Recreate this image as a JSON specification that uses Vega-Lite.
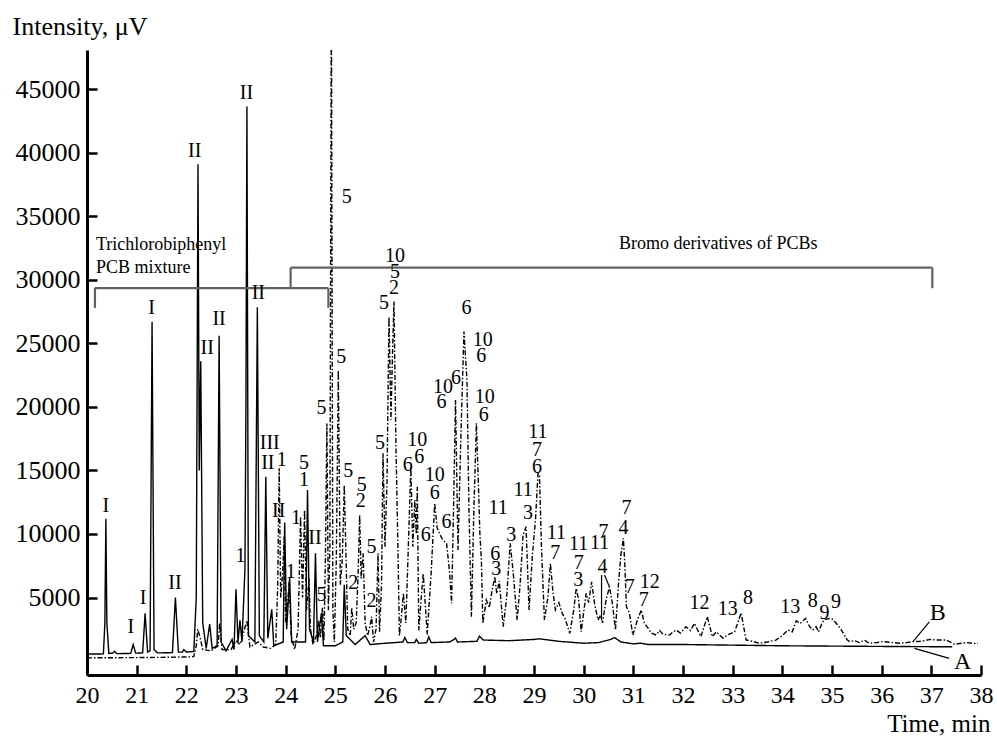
{
"$schema": "https://vega.github.io/schema/vega-lite/v6.json",
"width": 894, "height": 625,
"autosize": {"type": "none"},
"padding": {"left": 87, "top": 50, "right": 16, "bottom": 62},
"background": "white",
"config": {"view": {"stroke": null}, "font": "Liberation Serif, DejaVu Serif, serif"},
"datasets": {
"trace": [
{"s":"B","t":20.0,"v":250},{"s":"B","t":20.5,"v":260},{"s":"B","t":21.0,"v":270},{"s":"B","t":21.5,"v":290},{"s":"B","t":22.0,"v":320},{"s":"B","t":22.15,"v":350},{"s":"B","t":22.2,"v":1200},{"s":"B","t":22.23,"v":2500},{"s":"B","t":22.28,"v":1800},{"s":"B","t":22.33,"v":900},{"s":"B","t":22.5,"v":800},{"s":"B","t":22.64,"v":1200},{"s":"B","t":22.67,"v":3000},{"s":"B","t":22.72,"v":900},{"s":"B","t":22.9,"v":900},{"s":"B","t":23.0,"v":1600},{"s":"B","t":23.08,"v":1300},{"s":"B","t":23.15,"v":2200},{"s":"B","t":23.22,"v":3200},{"s":"B","t":23.28,"v":1100},{"s":"B","t":23.45,"v":1500},{"s":"B","t":23.55,"v":1100},{"s":"B","t":23.7,"v":1000},{"s":"B","t":23.8,"v":1300},{"s":"B","t":23.84,"v":6000},{"s":"B","t":23.87,"v":15170},{"s":"B","t":23.9,"v":5000},{"s":"B","t":23.94,"v":7000},{"s":"B","t":23.97,"v":9800},{"s":"B","t":24.0,"v":3000},{"s":"B","t":24.04,"v":4500},{"s":"B","t":24.07,"v":6200},{"s":"B","t":24.11,"v":2000},{"s":"B","t":24.18,"v":900},{"s":"B","t":24.25,"v":2500},{"s":"B","t":24.3,"v":11360},{"s":"B","t":24.34,"v":5000},{"s":"B","t":24.38,"v":11890},{"s":"B","t":24.42,"v":4000},{"s":"B","t":24.47,"v":6500},{"s":"B","t":24.5,"v":2500},{"s":"B","t":24.55,"v":1300},{"s":"B","t":24.62,"v":2000},{"s":"B","t":24.66,"v":3200},{"s":"B","t":24.7,"v":1800},{"s":"B","t":24.74,"v":4200},{"s":"B","t":24.77,"v":1600},{"s":"B","t":24.8,"v":8000},{"s":"B","t":24.83,"v":18700},{"s":"B","t":24.86,"v":4000},{"s":"B","t":24.89,"v":9000},{"s":"B","t":24.92,"v":53000},{"s":"B","t":24.95,"v":4000},{"s":"B","t":24.98,"v":1500},{"s":"B","t":25.02,"v":8000},{"s":"B","t":25.06,"v":22900},{"s":"B","t":25.1,"v":6000},{"s":"B","t":25.14,"v":8000},{"s":"B","t":25.18,"v":13860},{"s":"B","t":25.21,"v":9000},{"s":"B","t":25.25,"v":2500},{"s":"B","t":25.3,"v":2000},{"s":"B","t":25.33,"v":4200},{"s":"B","t":25.37,"v":2500},{"s":"B","t":25.42,"v":3000},{"s":"B","t":25.46,"v":7000},{"s":"B","t":25.49,"v":11500},{"s":"B","t":25.52,"v":6500},{"s":"B","t":25.56,"v":8480},{"s":"B","t":25.6,"v":3000},{"s":"B","t":25.65,"v":2000},{"s":"B","t":25.7,"v":2800},{"s":"B","t":25.73,"v":3490},{"s":"B","t":25.77,"v":1500},{"s":"B","t":25.82,"v":2500},{"s":"B","t":25.86,"v":8480},{"s":"B","t":25.89,"v":2300},{"s":"B","t":25.93,"v":6000},{"s":"B","t":25.96,"v":16350},{"s":"B","t":26.0,"v":9000},{"s":"B","t":26.04,"v":14000},{"s":"B","t":26.08,"v":27100},{"s":"B","t":26.12,"v":19000},{"s":"B","t":26.15,"v":24000},{"s":"B","t":26.18,"v":28300},{"s":"B","t":26.22,"v":17000},{"s":"B","t":26.26,"v":9000},{"s":"B","t":26.29,"v":2000},{"s":"B","t":26.33,"v":3500},{"s":"B","t":26.37,"v":5330},{"s":"B","t":26.42,"v":3000},{"s":"B","t":26.47,"v":9000},{"s":"B","t":26.52,"v":15300},{"s":"B","t":26.56,"v":9000},{"s":"B","t":26.6,"v":12680},{"s":"B","t":26.63,"v":10000},{"s":"B","t":26.65,"v":13720},{"s":"B","t":26.68,"v":2400},{"s":"B","t":26.73,"v":5000},{"s":"B","t":26.77,"v":6900},{"s":"B","t":26.81,"v":4500},{"s":"B","t":26.85,"v":2100},{"s":"B","t":26.93,"v":7000},{"s":"B","t":27.0,"v":12420},{"s":"B","t":27.05,"v":10500},{"s":"B","t":27.1,"v":10000},{"s":"B","t":27.17,"v":9500},{"s":"B","t":27.24,"v":9270},{"s":"B","t":27.3,"v":7000},{"s":"B","t":27.34,"v":4540},{"s":"B","t":27.38,"v":12000},{"s":"B","t":27.42,"v":20550},{"s":"B","t":27.47,"v":8740},{"s":"B","t":27.53,"v":18000},{"s":"B","t":27.59,"v":25930},{"s":"B","t":27.65,"v":22130},{"s":"B","t":27.69,"v":12000},{"s":"B","t":27.74,"v":3490},{"s":"B","t":27.79,"v":12000},{"s":"B","t":27.84,"v":18720},{"s":"B","t":27.88,"v":14000},{"s":"B","t":27.91,"v":10060},{"s":"B","t":27.94,"v":8000},{"s":"B","t":27.97,"v":2970},{"s":"B","t":28.04,"v":4800},{"s":"B","t":28.1,"v":4200},{"s":"B","t":28.14,"v":5200},{"s":"B","t":28.21,"v":6640},{"s":"B","t":28.25,"v":5300},{"s":"B","t":28.3,"v":6300},{"s":"B","t":28.38,"v":2700},{"s":"B","t":28.45,"v":5000},{"s":"B","t":28.52,"v":9270},{"s":"B","t":28.58,"v":7000},{"s":"B","t":28.66,"v":3230},{"s":"B","t":28.72,"v":6000},{"s":"B","t":28.78,"v":9920},{"s":"B","t":28.84,"v":10580},{"s":"B","t":28.9,"v":4020},{"s":"B","t":28.97,"v":8480},{"s":"B","t":29.03,"v":11100},{"s":"B","t":29.08,"v":14780},{"s":"B","t":29.11,"v":14650},{"s":"B","t":29.15,"v":9000},{"s":"B","t":29.21,"v":3230},{"s":"B","t":29.28,"v":5000},{"s":"B","t":29.33,"v":7690},{"s":"B","t":29.38,"v":5500},{"s":"B","t":29.43,"v":4020},{"s":"B","t":29.5,"v":4600},{"s":"B","t":29.57,"v":3750},{"s":"B","t":29.63,"v":3300},{"s":"B","t":29.72,"v":2180},{"s":"B","t":29.8,"v":4000},{"s":"B","t":29.85,"v":5720},{"s":"B","t":29.9,"v":4800},{"s":"B","t":29.95,"v":2310},{"s":"B","t":30.05,"v":5330},{"s":"B","t":30.1,"v":4600},{"s":"B","t":30.16,"v":6240},{"s":"B","t":30.22,"v":4500},{"s":"B","t":30.29,"v":3230},{"s":"B","t":30.34,"v":3600},{"s":"B","t":30.38,"v":3000},{"s":"B","t":30.45,"v":4800},{"s":"B","t":30.52,"v":5850},{"s":"B","t":30.58,"v":4500},{"s":"B","t":30.64,"v":2440},{"s":"B","t":30.7,"v":6000},{"s":"B","t":30.75,"v":8400},{"s":"B","t":30.8,"v":9660},{"s":"B","t":30.83,"v":7500},{"s":"B","t":30.86,"v":4280},{"s":"B","t":30.92,"v":3800},{"s":"B","t":30.99,"v":2050},{"s":"B","t":31.08,"v":3200},{"s":"B","t":31.16,"v":4020},{"s":"B","t":31.22,"v":3000},{"s":"B","t":31.3,"v":2570},{"s":"B","t":31.36,"v":2200},{"s":"B","t":31.46,"v":2050},{"s":"B","t":31.53,"v":2400},{"s":"B","t":31.6,"v":2100},{"s":"B","t":31.73,"v":2050},{"s":"B","t":31.8,"v":2300},{"s":"B","t":31.86,"v":2440},{"s":"B","t":31.95,"v":2200},{"s":"B","t":32.06,"v":2700},{"s":"B","t":32.15,"v":2400},{"s":"B","t":32.23,"v":2970},{"s":"B","t":32.36,"v":1920},{"s":"B","t":32.49,"v":3490},{"s":"B","t":32.59,"v":1920},{"s":"B","t":32.67,"v":2300},{"s":"B","t":32.8,"v":1800},{"s":"B","t":32.92,"v":2100},{"s":"B","t":33.04,"v":2300},{"s":"B","t":33.1,"v":2970},{"s":"B","t":33.17,"v":3800},{"s":"B","t":33.27,"v":1660},{"s":"B","t":33.4,"v":1550},{"s":"B","t":33.54,"v":1390},{"s":"B","t":33.7,"v":1500},{"s":"B","t":33.87,"v":1650},{"s":"B","t":34.0,"v":2000},{"s":"B","t":34.11,"v":2440},{"s":"B","t":34.2,"v":2300},{"s":"B","t":34.28,"v":3170},{"s":"B","t":34.36,"v":2970},{"s":"B","t":34.47,"v":3360},{"s":"B","t":34.55,"v":2700},{"s":"B","t":34.61,"v":2440},{"s":"B","t":34.68,"v":2700},{"s":"B","t":34.73,"v":2300},{"s":"B","t":34.8,"v":3000},{"s":"B","t":34.85,"v":3280},{"s":"B","t":34.95,"v":3350},{"s":"B","t":35.02,"v":3280},{"s":"B","t":35.1,"v":2900},{"s":"B","t":35.19,"v":2440},{"s":"B","t":35.3,"v":1700},{"s":"B","t":35.35,"v":1530},{"s":"B","t":35.45,"v":1600},{"s":"B","t":35.55,"v":1450},{"s":"B","t":35.65,"v":1650},{"s":"B","t":35.75,"v":1400},{"s":"B","t":35.9,"v":1450},{"s":"B","t":36.02,"v":1530},{"s":"B","t":36.15,"v":1480},{"s":"B","t":36.36,"v":1400},{"s":"B","t":36.5,"v":1450},{"s":"B","t":36.63,"v":1530},{"s":"B","t":36.8,"v":1550},{"s":"B","t":36.97,"v":1700},{"s":"B","t":37.1,"v":1650},{"s":"B","t":37.3,"v":1650},{"s":"B","t":37.47,"v":1320},{"s":"B","t":37.6,"v":1400},{"s":"B","t":37.71,"v":1450},{"s":"B","t":37.85,"v":1380},{"s":"B","t":37.94,"v":1400},
{"s":"A","t":20.0,"v":550},{"s":"A","t":20.33,"v":560},{"s":"A","t":20.36,"v":3000},{"s":"A","t":20.38,"v":11200},{"s":"A","t":20.4,"v":3000},{"s":"A","t":20.44,"v":600},{"s":"A","t":20.52,"v":620},{"s":"A","t":20.55,"v":760},{"s":"A","t":20.6,"v":580},{"s":"A","t":20.88,"v":600},{"s":"A","t":20.93,"v":1300},{"s":"A","t":20.98,"v":620},{"s":"A","t":21.12,"v":640},{"s":"A","t":21.17,"v":3750},{"s":"A","t":21.22,"v":700},{"s":"A","t":21.27,"v":800},{"s":"A","t":21.31,"v":26700},{"s":"A","t":21.35,"v":900},{"s":"A","t":21.42,"v":640},{"s":"A","t":21.72,"v":660},{"s":"A","t":21.78,"v":5000},{"s":"A","t":21.84,"v":700},{"s":"A","t":21.92,"v":700},{"s":"A","t":21.95,"v":900},{"s":"A","t":22.0,"v":700},{"s":"A","t":22.15,"v":750},{"s":"A","t":22.2,"v":5000},{"s":"A","t":22.235,"v":39100},{"s":"A","t":22.26,"v":15000},{"s":"A","t":22.29,"v":23600},{"s":"A","t":22.33,"v":3000},{"s":"A","t":22.4,"v":1000},{"s":"A","t":22.47,"v":2900},{"s":"A","t":22.52,"v":1000},{"s":"A","t":22.62,"v":1200},{"s":"A","t":22.66,"v":25600},{"s":"A","t":22.7,"v":1500},{"s":"A","t":22.8,"v":800},{"s":"A","t":22.92,"v":1700},{"s":"A","t":22.96,"v":900},{"s":"A","t":23.0,"v":5650},{"s":"A","t":23.04,"v":1500},{"s":"A","t":23.08,"v":3200},{"s":"A","t":23.12,"v":1500},{"s":"A","t":23.18,"v":7200},{"s":"A","t":23.2,"v":20000},{"s":"A","t":23.22,"v":43650},{"s":"A","t":23.25,"v":2000},{"s":"A","t":23.38,"v":1500},{"s":"A","t":23.43,"v":27850},{"s":"A","t":23.47,"v":2000},{"s":"A","t":23.56,"v":1500},{"s":"A","t":23.6,"v":14500},{"s":"A","t":23.64,"v":1800},{"s":"A","t":23.72,"v":4070},{"s":"A","t":23.76,"v":1200},{"s":"A","t":23.95,"v":1500},{"s":"A","t":23.98,"v":10900},{"s":"A","t":24.02,"v":2500},{"s":"A","t":24.08,"v":6600},{"s":"A","t":24.12,"v":1500},{"s":"A","t":24.4,"v":1500},{"s":"A","t":24.44,"v":13460},{"s":"A","t":24.48,"v":2500},{"s":"A","t":24.56,"v":1500},{"s":"A","t":24.6,"v":8480},{"s":"A","t":24.64,"v":1500},{"s":"A","t":24.72,"v":3780},{"s":"A","t":24.76,"v":1200},{"s":"A","t":25.0,"v":1200},{"s":"A","t":25.15,"v":1500},{"s":"A","t":25.18,"v":6000},{"s":"A","t":25.22,"v":2000},{"s":"A","t":25.4,"v":1300},{"s":"A","t":25.6,"v":2000},{"s":"A","t":25.7,"v":1300},{"s":"A","t":26.0,"v":1400},{"s":"A","t":26.2,"v":1450},{"s":"A","t":26.36,"v":1500},{"s":"A","t":26.4,"v":1850},{"s":"A","t":26.45,"v":1450},{"s":"A","t":26.6,"v":1450},{"s":"A","t":26.63,"v":1700},{"s":"A","t":26.68,"v":1400},{"s":"A","t":26.84,"v":1450},{"s":"A","t":26.88,"v":1900},{"s":"A","t":26.93,"v":1450},{"s":"A","t":27.3,"v":1500},{"s":"A","t":27.35,"v":1600},{"s":"A","t":27.42,"v":1800},{"s":"A","t":27.46,"v":1500},{"s":"A","t":27.85,"v":1550},{"s":"A","t":27.9,"v":1950},{"s":"A","t":27.98,"v":1650},{"s":"A","t":28.5,"v":1600},{"s":"A","t":29.0,"v":1700},{"s":"A","t":29.1,"v":1750},{"s":"A","t":29.5,"v":1550},{"s":"A","t":30.0,"v":1400},{"s":"A","t":30.3,"v":1450},{"s":"A","t":30.55,"v":1700},{"s":"A","t":30.62,"v":1850},{"s":"A","t":30.75,"v":1500},{"s":"A","t":31.0,"v":1350},{"s":"A","t":31.15,"v":1400},{"s":"A","t":31.3,"v":1300},{"s":"A","t":32.0,"v":1300},{"s":"A","t":33.0,"v":1250},{"s":"A","t":34.0,"v":1200},{"s":"A","t":36.0,"v":1150},{"s":"A","t":37.42,"v":1120}
],
"brackets": [
{"x1":20.16,"x2":24.86,"y1":29350,"y2":29350},
{"x1":20.16,"x2":20.16,"y1":29350,"y2":27800},
{"x1":24.86,"x2":24.86,"y1":29350,"y2":27800},
{"x1":24.10,"x2":37.02,"y1":30970,"y2":30970},
{"x1":24.10,"x2":24.10,"y1":30970,"y2":29350},
{"x1":37.02,"x2":37.02,"y1":30970,"y2":29350}
],
"leaders": [
{"x1":36.96,"x2":36.63,"y1":3090,"y2":1520},
{"x1":36.66,"x2":37.36,"y1":1000,"y2":210},
{"x1":30.36,"x2":30.36,"y1":6770,"y2":3230},
{"x1":30.42,"x2":30.52,"y1":6770,"y2":5830}
],
"labels": [
{"t":20.38,"v":12205,"txt":"I"},{"t":20.88,"v":2700,"txt":"I"},{"t":21.13,"v":4940,"txt":"I"},{"t":21.30,"v":27770,"txt":"I"},{"t":21.77,"v":6120,"txt":"II"},{"t":22.17,"v":40180,"txt":"II"},{"t":22.42,"v":24620,"txt":"II"},{"t":22.66,"v":26900,"txt":"II"},{"t":23.21,"v":44750,"txt":"II"},{"t":23.45,"v":28950,"txt":"II"},{"t":23.68,"v":17140,"txt":"III"},{"t":23.64,"v":15610,"txt":"II"},{"t":23.92,"v":15830,"txt":"1"},{"t":23.86,"v":11810,"txt":"II"},{"t":24.21,"v":11260,"txt":"1"},{"t":23.09,"v":8270,"txt":"1"},{"t":24.10,"v":7030,"txt":"1"},{"t":24.37,"v":15610,"txt":"5"},{"t":24.37,"v":14250,"txt":"1"},{"t":24.59,"v":9660,"txt":"II"},{"t":24.72,"v":5200,"txt":"5"},{"t":24.72,"v":19900,"txt":"5"},{"t":25.23,"v":36560,"txt":"5"},{"t":25.12,"v":23960,"txt":"5"},{"t":25.26,"v":14980,"txt":"5"},{"t":25.53,"v":13860,"txt":"5"},{"t":25.51,"v":12600,"txt":"2"},{"t":25.36,"v":6180,"txt":"2"},{"t":25.73,"v":9000,"txt":"5"},{"t":25.73,"v":4740,"txt":"2"},{"t":25.90,"v":17140,"txt":"5"},{"t":25.98,"v":28170,"txt":"5"},{"t":26.18,"v":29350,"txt":"2"},{"t":26.20,"v":30650,"txt":"5"},{"t":26.20,"v":31890,"txt":"10"},{"t":27.64,"v":27770,"txt":"6"},{"t":27.97,"v":25240,"txt":"10"},{"t":27.94,"v":23980,"txt":"6"},{"t":27.17,"v":21600,"txt":"10"},{"t":27.14,"v":20420,"txt":"6"},{"t":27.43,"v":22310,"txt":"6"},{"t":28.01,"v":20810,"txt":"10"},{"t":27.99,"v":19370,"txt":"6"},{"t":26.65,"v":17400,"txt":"10"},{"t":26.69,"v":16090,"txt":"6"},{"t":26.46,"v":15430,"txt":"6"},{"t":27.00,"v":14650,"txt":"10"},{"t":27.00,"v":13200,"txt":"6"},{"t":27.24,"v":10970,"txt":"6"},{"t":26.82,"v":9920,"txt":"6"},{"t":28.28,"v":12020,"txt":"11"},{"t":28.22,"v":8430,"txt":"6"},{"t":28.24,"v":7260,"txt":"3"},{"t":28.54,"v":9960,"txt":"3"},{"t":28.78,"v":13460,"txt":"11"},{"t":28.88,"v":11690,"txt":"3"},{"t":29.08,"v":18060,"txt":"11"},{"t":29.06,"v":16610,"txt":"7"},{"t":29.06,"v":15280,"txt":"6"},{"t":29.45,"v":10060,"txt":"11"},{"t":29.43,"v":8480,"txt":"7"},{"t":29.90,"v":9210,"txt":"11"},{"t":29.90,"v":7720,"txt":"7"},{"t":29.89,"v":6410,"txt":"3"},{"t":30.32,"v":9310,"txt":"11"},{"t":30.40,"v":10180,"txt":"7"},{"t":30.38,"v":7430,"txt":"4"},{"t":30.86,"v":12020,"txt":"7"},{"t":30.80,"v":10450,"txt":"4"},{"t":30.93,"v":5850,"txt":"7"},{"t":31.33,"v":6240,"txt":"12"},{"t":31.21,"v":4800,"txt":"7"},{"t":32.33,"v":4540,"txt":"12"},{"t":32.90,"v":4070,"txt":"13"},{"t":33.31,"v":4980,"txt":"8"},{"t":34.16,"v":4280,"txt":"13"},{"t":34.61,"v":4750,"txt":"8"},{"t":34.85,"v":3760,"txt":"9"},{"t":35.08,"v":4670,"txt":"9"}
],
"big": [
{"t":37.13,"v":3760,"txt":"B"},{"t":37.63,"v":-55,"txt":"A"}
],
"notes": [
{"t":20.18,"v":32360,"txt":"Trichlorobiphenyl"},
{"t":20.18,"v":30550,"txt":"PCB mixture"}
],
"notes2": [
{"t":32.71,"v":32440,"txt":"Bromo derivatives of PCBs"}
]
},
"layer": [
{"data": {"name": "trace"},
 "mark": {"type": "line", "strokeWidth": 1.4, "clip": true},
 "encoding": {
  "x": {"field": "t", "type": "quantitative", "scale": {"domain": [20, 38], "nice": false, "zero": false},
        "axis": {"values": [20,21,22,23,24,25,26,27,28,29,30,31,32,33,34,35,36,37,38], "grid": false, "tickSize": -10, "tickWidth": 2.5, "tickColor": "black", "domainWidth": 3, "domainColor": "black", "labelFont": "Liberation Serif, DejaVu Serif, serif", "labelFontSize": 24, "labelColor": "black", "labelPadding": 18, "labelFlush": false, "title": "Time, min", "titleFont": "Liberation Serif, DejaVu Serif, serif", "titleFontSize": 25, "titleFontWeight": "normal", "titleColor": "black", "titleAnchor": "end", "titleAlign": "right", "titleX": 903, "titleY": 56, "titleBaseline": "alphabetic"}},
  "y": {"field": "v", "type": "quantitative", "scale": {"domain": [-1100, 48100], "nice": false, "zero": false},
        "axis": {"values": [5000,10000,15000,20000,25000,30000,35000,40000,45000], "format": "d", "grid": false, "tickSize": -10, "tickWidth": 2.5, "tickColor": "black", "domainWidth": 3, "domainColor": "black", "labelFont": "Liberation Serif, DejaVu Serif, serif", "labelFontSize": 26, "labelColor": "black", "labelPadding": 17, "title": "Intensity, μV", "titleFont": "Liberation Serif, DejaVu Serif, serif", "titleFontSize": 26, "titleFontWeight": "normal", "titleColor": "black", "titleAngle": 0, "titleAlign": "left", "titleBaseline": "alphabetic", "titleX": -75, "titleY": -16}},
  "detail": {"field": "s"},
  "color": {"field": "s", "type": "nominal", "scale": {"domain": ["B","A"], "range": ["#000000","#000000"]}, "legend": null},
  "strokeDash": {"field": "s", "type": "nominal", "scale": {"domain": ["B","A"], "range": [[5,2,1.5,2],[1,0]]}, "legend": null}
 }},
{"data": {"name": "brackets"},
 "mark": {"type": "rule", "color": "#606060", "strokeWidth": 2.2},
 "encoding": {"x": {"field": "x1", "type": "quantitative"}, "x2": {"field": "x2"}, "y": {"field": "y1", "type": "quantitative"}, "y2": {"field": "y2"}}},
{"data": {"name": "leaders"},
 "mark": {"type": "rule", "color": "black", "strokeWidth": 1.2},
 "encoding": {"x": {"field": "x1", "type": "quantitative"}, "x2": {"field": "x2"}, "y": {"field": "y1", "type": "quantitative"}, "y2": {"field": "y2"}}},
{"data": {"name": "labels"},
 "mark": {"type": "text", "font": "Liberation Serif, DejaVu Serif, serif", "fontSize": 20, "color": "black", "align": "center", "baseline": "middle"},
 "encoding": {"x": {"field": "t", "type": "quantitative"}, "y": {"field": "v", "type": "quantitative"}, "text": {"field": "txt"}}},
{"data": {"name": "big"},
 "mark": {"type": "text", "font": "Liberation Serif, DejaVu Serif, serif", "fontSize": 24, "color": "black", "align": "center", "baseline": "middle"},
 "encoding": {"x": {"field": "t", "type": "quantitative"}, "y": {"field": "v", "type": "quantitative"}, "text": {"field": "txt"}}},
{"data": {"name": "notes"},
 "mark": {"type": "text", "font": "Liberation Serif, DejaVu Serif, serif", "fontSize": 18, "color": "black", "align": "left", "baseline": "alphabetic"},
 "encoding": {"x": {"field": "t", "type": "quantitative"}, "y": {"field": "v", "type": "quantitative"}, "text": {"field": "txt"}}},
{"data": {"name": "notes2"},
 "mark": {"type": "text", "font": "Liberation Serif, DejaVu Serif, serif", "fontSize": 18, "color": "black", "align": "center", "baseline": "alphabetic"},
 "encoding": {"x": {"field": "t", "type": "quantitative"}, "y": {"field": "v", "type": "quantitative"}, "text": {"field": "txt"}}}
]
}
